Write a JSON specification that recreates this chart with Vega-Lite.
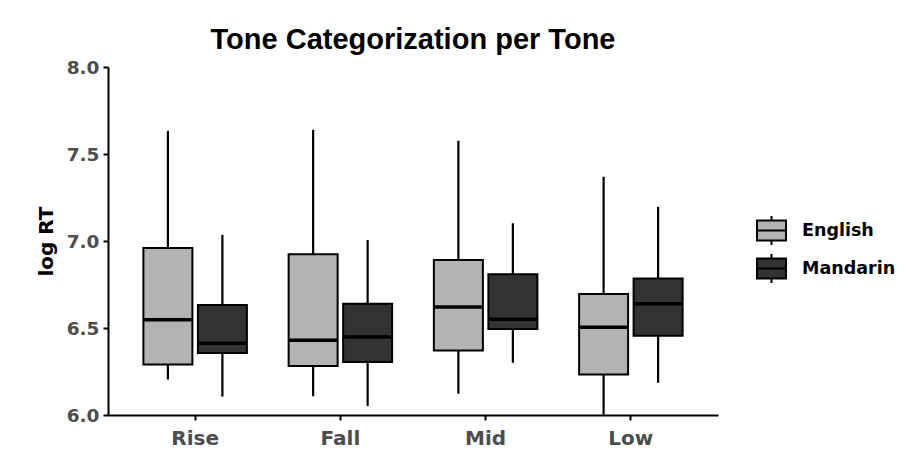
{
  "$schema": "https://vega.github.io/schema/vega-lite/v6.json",
  "autosize": {"type": "none"},
  "width": 610,
  "height": 348,
  "padding": {"left": 108, "top": 67, "right": 199, "bottom": 53},
  "background": "white",
  "title": {
    "text": "Tone Categorization per Tone",
    "font": "Liberation Sans",
    "fontSize": 29,
    "fontWeight": "bold",
    "color": "black",
    "anchor": "middle",
    "frame": "group",
    "baseline": "alphabetic",
    "offset": -20
  },
  "data": {
    "values": [
      {"tone": "Rise", "group": "English", "lower": 6.204, "q1": 6.29, "median": 6.548, "q3": 6.96, "upper": 7.633},
      {"tone": "Rise", "group": "Mandarin", "lower": 6.106, "q1": 6.356, "median": 6.413, "q3": 6.632, "upper": 7.035},
      {"tone": "Fall", "group": "English", "lower": 6.108, "q1": 6.281, "median": 6.429, "q3": 6.924, "upper": 7.639},
      {"tone": "Fall", "group": "Mandarin", "lower": 6.051, "q1": 6.304, "median": 6.448, "q3": 6.64, "upper": 7.006},
      {"tone": "Mid", "group": "English", "lower": 6.122, "q1": 6.371, "median": 6.62, "q3": 6.891, "upper": 7.576},
      {"tone": "Mid", "group": "Mandarin", "lower": 6.3, "q1": 6.494, "median": 6.551, "q3": 6.809, "upper": 7.102},
      {"tone": "Low", "group": "English", "lower": 6.003, "q1": 6.233, "median": 6.505, "q3": 6.695, "upper": 7.369},
      {"tone": "Low", "group": "Mandarin", "lower": 6.185, "q1": 6.456, "median": 6.64, "q3": 6.784, "upper": 7.196}
    ]
  },
  "encoding": {
    "x": {
      "field": "tone",
      "type": "nominal",
      "sort": ["Rise", "Fall", "Mid", "Low"],
      "scale": {"paddingInner": 0, "paddingOuter": 0.1},
      "axis": {
        "title": null,
        "labelAngle": 0,
        "labelFont": "DejaVu Sans",
        "labelFontSize": 20,
        "labelFontWeight": "bold",
        "labelColor": "#4d4d4d",
        "labelPadding": 8,
        "domainColor": "black",
        "domainWidth": 2,
        "tickColor": "black",
        "tickWidth": 2,
        "tickSize": 5
      }
    },
    "xOffset": {
      "field": "group",
      "type": "nominal",
      "sort": ["English", "Mandarin"],
      "scale": {"paddingInner": 0, "paddingOuter": 0.3325}
    }
  },
  "layer": [
    {
      "mark": {"type": "rule", "color": "black", "strokeWidth": 2.2},
      "encoding": {
        "y": {
          "field": "lower",
          "type": "quantitative",
          "scale": {"domain": [6, 8], "zero": false, "nice": false},
          "axis": {
            "title": "log RT",
            "titleFont": "DejaVu Sans",
            "titleFontSize": 20,
            "titleFontWeight": "bold",
            "titleColor": "black",
            "titlePadding": 10,
            "values": [6, 6.5, 7, 7.5, 8],
            "format": ".1f",
            "grid": false,
            "labelFont": "DejaVu Sans",
            "labelFontSize": 18.5,
            "labelFontWeight": "bold",
            "labelColor": "#4d4d4d",
            "labelPadding": 4,
            "domainColor": "black",
            "domainWidth": 2,
            "tickColor": "black",
            "tickWidth": 2,
            "tickSize": 5
          }
        },
        "y2": {"field": "upper"}
      }
    },
    {
      "mark": {"type": "bar", "width": 49, "stroke": "black", "strokeWidth": 2},
      "encoding": {
        "y": {"field": "q1", "type": "quantitative"},
        "y2": {"field": "q3"},
        "fill": {
          "field": "group",
          "type": "nominal",
          "scale": {"domain": ["English", "Mandarin"], "range": ["#b3b3b3", "#333333"]},
          "legend": {
            "title": null,
            "orient": "none",
            "legendX": 648,
            "legendY": 148,
            "padding": 0,
            "symbolType": "M-1,-0.69H1V0.69H-1Z M-1,0H1 M0,-0.69V-1 M0,0.69V1",
            "symbolSize": 841,
            "symbolStrokeColor": "black",
            "symbolStrokeWidth": 2,
            "symbolOpacity": 1,
            "labelFont": "DejaVu Sans",
            "labelFontSize": 17.5,
            "labelFontWeight": "bold",
            "labelColor": "black",
            "labelOffset": 15,
            "rowPadding": 1
          }
        }
      }
    },
    {
      "mark": {"type": "tick", "color": "black", "thickness": 3.5, "size": 49, "opacity": 1},
      "encoding": {
        "y": {"field": "median", "type": "quantitative"}
      }
    }
  ],
  "config": {
    "view": {"stroke": null},
    "axis": {"grid": false}
  }
}
